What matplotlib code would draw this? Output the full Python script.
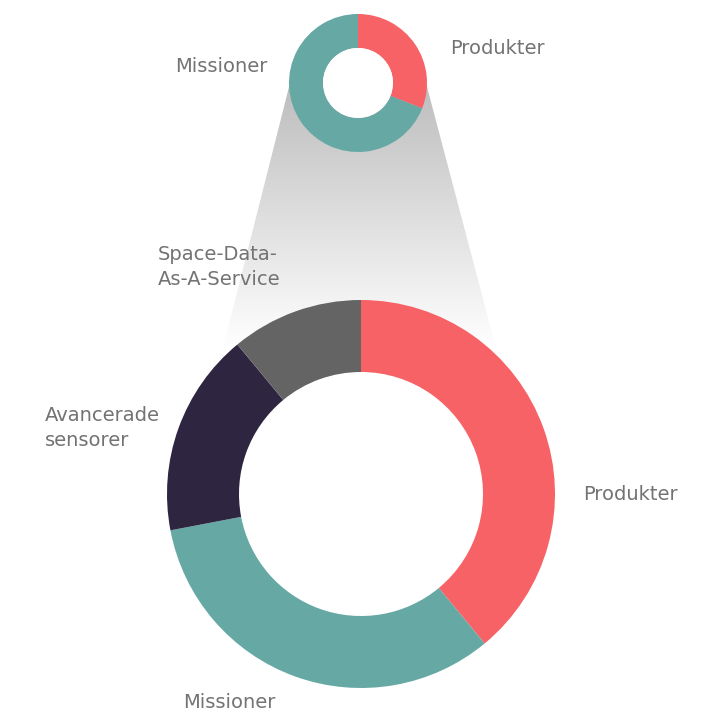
import numpy as np
import matplotlib.pyplot as plt
from matplotlib.patches import Polygon, Circle

# big donut
labels = ["Produkter", "Missioner", "Avancerade\nsensorer", "Space-Data-\nAs-A-Service"]
values = [39, 33, 17, 11]
colors = ["#f76266", "#66a9a4", "#2e2541", "#646464"]

# small donut
small_labels = ["Produkter", "Missioner"]
small_values = [31, 69]
small_colors = ["#f76266", "#66a9a4"]

W, H = 715, 710
fig = plt.figure(figsize=(W / 100, H / 100), dpi=100)
ax = fig.add_axes([0, 0, 1, 1])
ax.set_xlim(0, W)
ax.set_ylim(0, H)
ax.set_aspect("equal")
ax.axis("off")

# grey "zoom" funnel behind the donuts, fading to white
top, bot = 627, 362
funnel = Polygon([(290, top), (426, top), (496, bot), (223, bot)],
                 closed=True, facecolor="none", edgecolor="none")
ax.add_patch(funnel)
shade = np.linspace(1.0, 0.74, 256)
grad = np.repeat(shade[:, None, None], 3, axis=2)
img = ax.imshow(grad, aspect="auto", extent=(215, 505, bot, top),
                origin="lower", zorder=0)
img.set_clip_path(funnel)

ax.pie(values, colors=colors, startangle=90, counterclock=False,
       center=(361, 216), radius=194,
       wedgeprops=dict(width=72, edgecolor="none"))
ax.pie(small_values, colors=small_colors, startangle=90, counterclock=False,
       center=(358, 627), radius=69,
       wedgeprops=dict(width=34, edgecolor="none"))
ax.add_patch(Circle((358, 627), 35, facecolor="white", edgecolor="none", zorder=5))
ax.set_xlim(0, W)
ax.set_ylim(0, H)

tkw = dict(fontsize=14, color="#737373", family="DejaVu Sans",
           ha="left", va="center", linespacing=1.45)
ax.text(583, H - 494, labels[0], **tkw)
ax.text(183, H - 702, labels[1], **tkw)
ax.text(45, H - 428, labels[2], **tkw)
ax.text(158, H - 267, labels[3], **tkw)
ax.text(450, H - 49, small_labels[0], **tkw)
ax.text(175, H - 67, small_labels[1], **tkw)

fig.savefig("out.png", dpi=100)
